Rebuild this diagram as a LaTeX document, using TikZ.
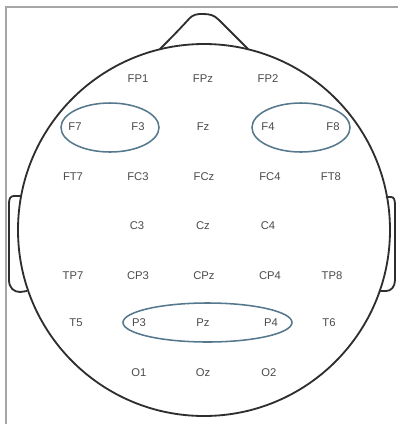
\documentclass[tikz,border=0pt]{standalone}
\usepackage{fontspec}
\setmainfont{Liberation Sans}
\definecolor{outline}{HTML}{2E2E2E}
\definecolor{ring}{HTML}{55788C}
\definecolor{lbl}{HTML}{4A4A4A}
\definecolor{frame}{HTML}{A6A6A6}
\begin{document}
\begin{tikzpicture}[x=0.025cm,y=-0.025cm,
    every node/.style={font=\fontsize{8}{9}\selectfont,text=lbl,inner sep=1pt},
    head/.style={draw=outline,line width=1.3pt,line join=round},
    region/.style={draw=ring,line width=1.1pt}]
  \useasboundingbox (0,0) rectangle (398,424);
  % panel edge
  \draw[frame,line width=1.1pt] (6,424) -- (6,7) -- (398,7);
  % head, nose and ears
  \draw[head] (204,230) circle [radius=186];
  \draw[head] (160,49) .. controls (168,41) and (177,32) .. (188,20)
    .. controls (193,14) and (197,14) .. (203,14)
    .. controls (210,14) and (214,15) .. (219,20)
    .. controls (231,32) and (240,41) .. (248,49);
  \draw[head] (22,196) -- (14,196) .. controls (10,196) and (9,199) .. (9,204)
    -- (9,280) .. controls (9,288) and (14,292) .. (20,292) -- (27,291);
  \draw[head] (386,197) -- (391,197) .. controls (394,197) and (395,200) .. (395,205)
    -- (395,280) .. controls (395,287) and (391,291) .. (386,291) -- (379,291);
  % electrode labels
  \foreach \name/\x/\y in {FP1/138/79,FPz/203/79,FP2/268/79,
      F7/75/127,F3/138/127,Fz/203/127,F4/268/127,F8/333/127,
      FT7/73/177,FC3/138/177,FCz/204/177,FC4/270/177,FT8/331/177,
      C3/137/226,Cz/203/226,C4/268/226,
      TP7/73/276,CP3/138/276,CPz/204/276,CP4/270/276,TP8/332/276,
      T5/76/323,P3/139/323,Pz/203/323,P4/271/323,T6/329/323,
      O1/139/373,Oz/203/373,O2/269/373}
    \node (\name) at (\x,\y) {\name};
  % grouped regions
  \draw[region] (110,127.5) ellipse [x radius=49,y radius=24.5];
  \draw[region] (301,127.5) ellipse [x radius=49,y radius=24.5];
  \draw[region] (207.5,322.5) ellipse [x radius=84.5,y radius=19.5];
\end{tikzpicture}
\end{document}
